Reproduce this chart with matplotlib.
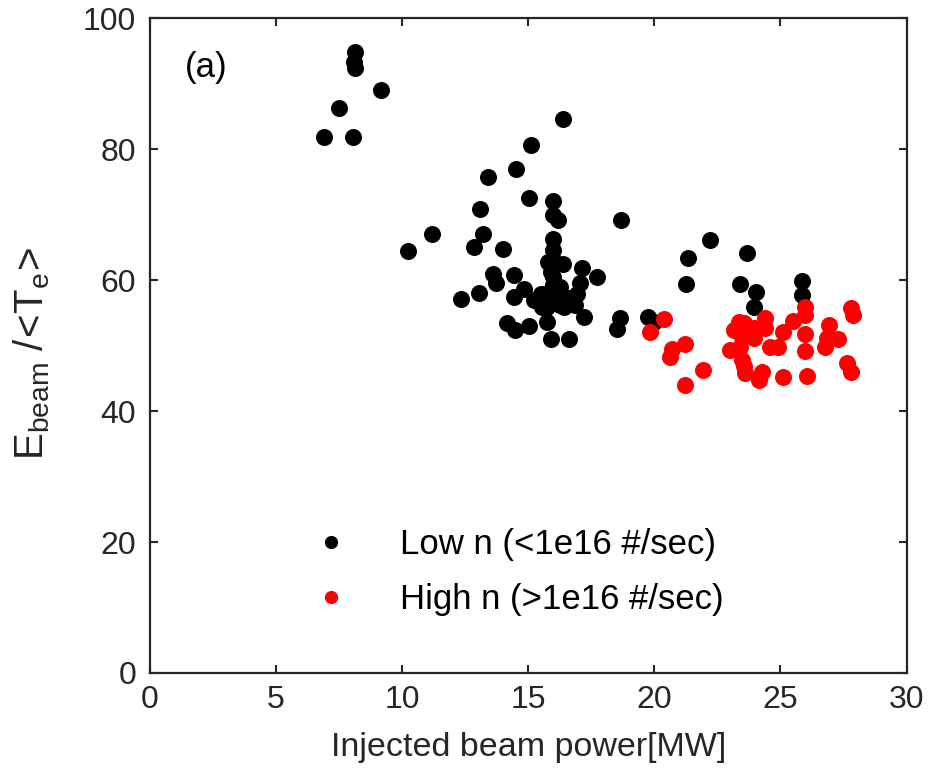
import matplotlib
matplotlib.use("Agg")
import matplotlib.pyplot as plt
from matplotlib.lines import Line2D

# ---------------- data ----------------
low_x = [8.13, 8.07, 8.13, 9.17, 7.51, 6.90, 8.03, 11.19, 10.22, 16.36, 15.12, 14.51,
         13.39, 15.04, 16.00, 16.00, 16.16, 18.69, 13.10, 13.20, 12.86, 14.00, 16.00,
         16.00, 16.00, 15.80, 16.36, 17.13, 17.73, 17.04, 13.62, 13.73, 14.42, 14.85,
         14.42, 12.33, 13.03, 15.21, 16.00, 16.27, 15.80, 16.14, 15.74, 16.40, 16.93,
         16.87, 17.22, 15.74, 14.15, 14.46, 15.04, 15.91, 16.63, 18.62, 18.52, 19.75,
         19.97, 22.20, 21.34, 23.68, 21.26, 23.41, 24.03, 23.94, 25.86, 25.86,
         16.00, 15.54, 16.27, 15.50, 16.60, 16.20, 16.00, 15.90]
low_y = [94.8, 93.3, 92.3, 89.0, 86.3, 81.9, 81.9, 67.1, 64.5, 84.6, 80.6, 76.9,
         75.8, 72.5, 72.0, 69.9, 69.2, 69.2, 70.8, 67.1, 65.1, 64.7, 66.2,
         64.6, 63.1, 62.7, 62.5, 61.9, 60.5, 59.5, 60.9, 59.6, 60.7, 58.7,
         57.4, 57.1, 58.0, 56.9, 60.5, 58.9, 58.0, 56.9, 55.9, 55.9, 57.8,
         56.2, 54.4, 53.6, 53.5, 52.3, 53.0, 51.0, 51.0, 54.2, 52.5, 54.4,
         53.6, 66.1, 63.4, 64.1, 59.4, 59.4, 58.1, 55.9, 59.8, 57.7,
         57.5, 55.9, 56.2, 57.8, 57.2, 58.0, 59.2, 61.3]

high_x = [20.37, 19.84, 20.70, 20.61, 21.23, 21.93, 21.23, 22.98, 23.54, 23.41, 23.74,
          23.48, 23.94, 23.41, 23.48, 23.54, 23.61, 24.27, 24.14, 24.38, 24.38, 24.58,
          24.90, 25.09, 25.09, 25.50, 25.96, 25.96, 25.96, 25.96, 26.06, 26.92, 26.85,
          26.76, 27.28, 27.78, 27.87, 27.62, 27.78, 23.15, 23.35, 23.94]
high_y = [54.0, 52.0, 49.4, 48.3, 50.3, 46.3, 44.0, 49.3, 53.4, 52.4, 52.4,
          51.3, 51.1, 49.8, 47.8, 46.8, 45.8, 46.0, 44.8, 54.2, 52.6, 49.7,
          49.7, 52.0, 45.2, 53.8, 55.9, 54.7, 51.7, 49.1, 45.3, 53.1, 51.1,
          49.7, 51.0, 55.7, 54.7, 47.4, 45.9, 52.4, 53.6, 52.6]

label_low = "Low n (<1e16 #/sec)"
label_high = "High n (>1e16 #/sec)"
panel_label = "(a)"
xlabel = "Injected beam power[MW]"
ylabel = r"$\mathrm{E_{beam}\ /\!<\!T_e\!>}$"
xticks = [0, 5, 10, 15, 20, 25, 30]
yticks = [0, 20, 40, 60, 80, 100]

# ---------------- style ----------------
plt.rcParams['font.family'] = ['Liberation Sans', 'DejaVu Sans']
plt.rcParams['mathtext.fontset'] = 'custom'
plt.rcParams['mathtext.rm'] = 'Liberation Sans'
plt.rcParams['mathtext.it'] = 'Liberation Sans'
axc = '#262626'

fig = plt.figure(figsize=(9.29, 7.74), dpi=100)
ax = fig.add_axes([0.1615, 0.1305, 0.8143, 0.8462])

ms = 150
ax.scatter(low_x, low_y, s=ms, c='black', marker='o', linewidths=0, zorder=3)
ax.scatter(low_x, low_y, s=ms * 0.75, c='none', marker=(8, 2, 0),
           edgecolors='#555555', linewidths=0.6, zorder=3)
ax.scatter(high_x, high_y, s=ms, c='#ff0000', marker='o', linewidths=0, zorder=4)
ax.scatter(high_x, high_y, s=ms * 0.75, c='none', marker=(8, 2, 0),
           edgecolors='#ff6666', linewidths=0.6, zorder=4)

ax.set_xlim(0, 30)
ax.set_ylim(0, 100)
ax.set_xticks(xticks)
ax.set_yticks(yticks)
ax.tick_params(direction='in', top=True, right=True, length=6, width=1.5,
               colors=axc, labelsize=23, labelcolor=axc)
ax.tick_params(axis='x', pad=9)
ax.tick_params(axis='y', pad=10)
for sp in ax.spines.values():
    sp.set_linewidth(1.6)
    sp.set_color(axc)

ax.set_xlabel(xlabel, fontsize=24.5, color=axc, labelpad=12)
ax.set_ylabel(ylabel, fontsize=29, color=axc, labelpad=22)
ax.yaxis.label.set_y(0.488)

ax.text(0.046, 0.924, panel_label, transform=ax.transAxes, fontsize=25,
        color='black', ha='left', va='center')

handles = [Line2D([], [], ls='none', marker='o', ms=8.5, mfc='black', mec='black'),
           Line2D([], [], ls='none', marker='o', ms=8.5, mfc='#ff0000', mec='#ff0000')]
leg = ax.legend(handles, [label_low, label_high], loc='center left',
                bbox_to_anchor=(0.175, 0.154), borderaxespad=0, frameon=False,
                fontsize=25, labelspacing=0.64, handletextpad=1.0, handlelength=2.0)

fig.savefig("out.png", dpi=100)
